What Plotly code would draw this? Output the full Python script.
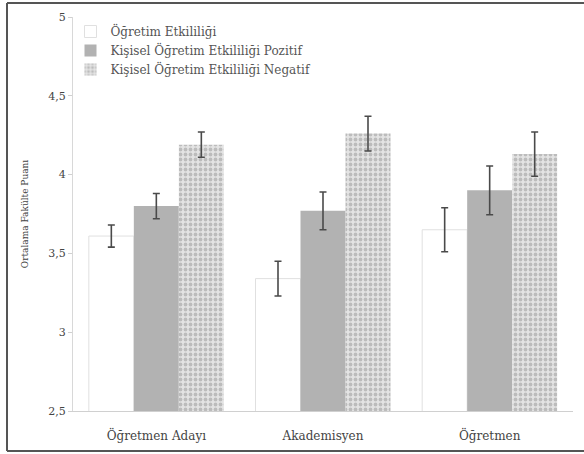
import plotly.graph_objects as go

categories = ["Öğretmen Adayı", "Akademisyen", "Öğretmen"]
series_names = ["Öğretim Etkililiği",
                "Kişisel Öğretim Etkililiği Pozitif",
                "Kişisel Öğretim Etkililiği Negatif"]
ogretim = [3.61, 3.34, 3.65]
ogretim_err = [0.07, 0.11, 0.14]
pozitif = [3.80, 3.77, 3.90]
pozitif_err = [0.08, 0.12, 0.155]
negatif = [4.19, 4.26, 4.13]
negatif_err = [0.08, 0.11, 0.14]
y_ticks = [2.5, 3, 3.5, 4, 4.5, 5]

serif = "DejaVu Serif, Liberation Serif, serif"
err_style = dict(type="data", thickness=1.6, width=3.5, color="#4a4a4a")

fig = go.Figure()
fig.add_trace(go.Bar(
    name=series_names[0], x=categories, y=ogretim, legendgroup="a",
    error_y=dict(array=ogretim_err, **err_style),
    marker=dict(color="white", line=dict(color="#e0e0e0", width=1)),
))
fig.add_trace(go.Bar(
    name=series_names[1], x=categories, y=pozitif, legendgroup="b",
    error_y=dict(array=pozitif_err, **err_style),
    marker=dict(color="#b2b2b2", line=dict(width=0)),
))
fig.add_trace(go.Bar(
    name=series_names[2], x=categories, y=negatif, legendgroup="c",
    error_y=dict(array=negatif_err, **err_style),
    marker=dict(color="#e2e2e2", line=dict(width=0),
                pattern=dict(shape=".", fgcolor="#949494", bgcolor="#e4e4e4",
                             size=5, solidity=0.45)),
))

border = dict(color="#555", width=2)
fig.update_layout(
    width=584, height=454,
    margin=dict(l=73, r=11, t=17, b=43),
    paper_bgcolor="white", plot_bgcolor="white",
    barmode="group", bargap=0.19, bargroupgap=0,
    separators=",.",
    font=dict(family=serif, size=11, color="#444"),
    showlegend=True,
    legend=dict(x=-0.005, y=1.0, xanchor="left", yanchor="top",
                bgcolor="rgba(0,0,0,0)", font=dict(family=serif, size=12, color="#555"),
                itemwidth=30, tracegroupgap=3, traceorder="normal"),
    xaxis=dict(showline=True, linecolor="#d0d0d0", linewidth=1,
               ticks="outside", ticklen=14, tickcolor="rgba(0,0,0,0)",
               tickfont=dict(family=serif, size=12, color="#444"), showgrid=False),
    yaxis=dict(range=[2.5, 5], tickvals=y_ticks, showline=True, linecolor="#d8d8d8",
               ticks="outside", ticklen=4, tickcolor="#d0d0d0", showgrid=False,
               zeroline=False, tickfont=dict(family=serif, size=11, color="#444"),
               title=dict(text="Ortalama Fakülte Puanı",
                          font=dict(family=serif, size=9, color="#444"),
                          standoff=18)),
    shapes=[
        dict(type="line", xref="paper", yref="paper",
             x0=(7 - 73) / 500, x1=(600 - 73) / 500,
             y0=(411 - 3) / 394, y1=(411 - 3) / 394, line=border, layer="above"),
        dict(type="line", xref="paper", yref="paper",
             x0=(7 - 73) / 500, x1=(600 - 73) / 500,
             y0=(411 - 451) / 394, y1=(411 - 451) / 394, line=border, layer="above"),
        dict(type="line", xref="paper", yref="paper",
             x0=(7 - 73) / 500, x1=(7 - 73) / 500,
             y0=(411 - 451) / 394, y1=(411 - 3) / 394, line=border, layer="above"),
    ],
)

fig.write_html("out.html", config={"displayModeBar": False},
               post_script="document.body.style.margin='0';")
